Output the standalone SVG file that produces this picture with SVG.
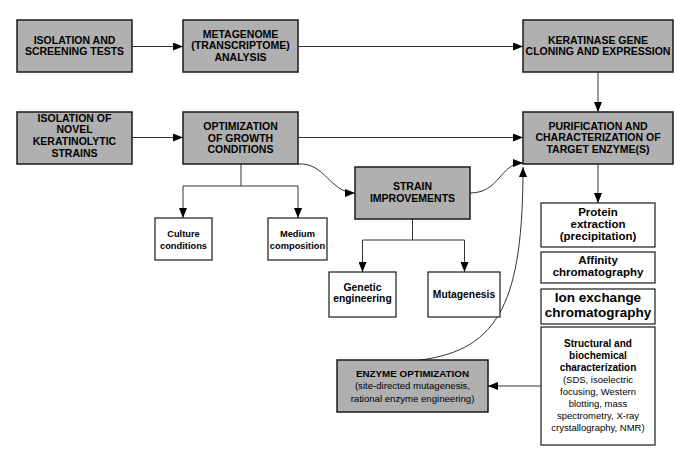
<svg xmlns="http://www.w3.org/2000/svg" width="692" height="464" viewBox="0 0 692 464">
<defs>
<marker id="ah" markerUnits="userSpaceOnUse" markerWidth="10" markerHeight="8" refX="10" refY="4" orient="auto">
<path d="M0,0 L10,4 L0,8 z" fill="#000"/>
</marker>
<style>
.g{fill:#b0b0b0;stroke:#1a1a1a;stroke-width:1.5}
.w{fill:#fff;stroke:#1a1a1a;stroke-width:1.2}
text{font-family:"Liberation Sans",Arial,sans-serif;fill:#000;text-anchor:middle}
.h{font-weight:bold;font-size:10.5px}
.s{font-weight:bold;font-size:9.3px}
.m{font-weight:bold;font-size:10.3px}
.p{font-weight:bold;font-size:11.5px}
.i{font-weight:bold;font-size:13.5px}
.b{font-weight:bold;font-size:10px}
.r{font-size:9.5px}
.c path{fill:none;stroke:#333;stroke-width:1}
.c .a{marker-end:url(#ah)}
</style>
</defs>
<rect width="692" height="464" fill="#fff"/>
<g class="c">
<path class="a" d="M132,46.5 H183"/>
<path class="a" d="M298,46.5 H523"/>
<path class="a" d="M132,137.5 H183"/>
<path class="a" d="M298,137.5 H523"/>
<path class="a" d="M598,72 V112"/>
<path class="a" d="M598,164 V203"/>
<path d="M241,164 V186 M183,186 H298"/>
<path class="a" d="M183,186 V218"/>
<path class="a" d="M298,186 V218"/>
<path d="M412.5,219 V240 M362.5,240 H464.5"/>
<path class="a" d="M362.5,240 V272"/>
<path class="a" d="M464.5,240 V272"/>
<path class="a" d="M298,164 C325,162 330,193 355,193"/>
<path class="a" d="M470,193 C500,193 500,163 523,163"/>
<path class="a" d="M420,360 C500,350 523,300 523,167"/>
<path class="a" d="M541,386 H488"/>
</g>
<g id="isolation-screening"><rect class="g" x="17" y="20" width="115" height="52"/><text class="h"><tspan x="74.5" y="43.5">ISOLATION AND</tspan><tspan x="74.5" y="55.2">SCREENING TESTS</tspan></text></g>
<g id="metagenome"><rect class="g" x="183" y="20" width="115" height="52"/><text class="h"><tspan x="240.5" y="37.5">METAGENOME</tspan><tspan x="240.5" y="49.2">(TRANSCRIPTOME)</tspan><tspan x="240.5" y="60.9">ANALYSIS</tspan></text></g>
<g id="keratinase"><rect class="g" x="523" y="20" width="150" height="52"/><text class="h"><tspan x="598" y="43.5">KERATINASE GENE</tspan><tspan x="598" y="55.2">CLONING AND EXPRESSION</tspan></text></g>
<g id="isolation-novel"><rect class="g" x="17" y="112" width="115" height="52"/><text class="h"><tspan x="74.5" y="121.5">ISOLATION OF</tspan><tspan x="74.5" y="133.2">NOVEL</tspan><tspan x="74.5" y="144.9">KERATINOLYTIC</tspan><tspan x="74.5" y="156.6">STRAINS</tspan></text></g>
<g id="optimization"><rect class="g" x="183" y="112" width="115" height="52"/><text class="h"><tspan x="240.5" y="130">OPTIMIZATION</tspan><tspan x="240.5" y="141.7">OF GROWTH</tspan><tspan x="240.5" y="153.4">CONDITIONS</tspan></text></g>
<g id="purification"><rect class="g" x="523" y="112" width="150" height="52"/><text class="h"><tspan x="598" y="129.7">PURIFICATION AND</tspan><tspan x="598" y="141.4">CHARACTERIZATION OF</tspan><tspan x="598" y="153.1">TARGET ENZYME(S)</tspan></text></g>
<g id="strain"><rect class="g" x="355" y="167" width="115" height="52"/><text class="h"><tspan x="412.5" y="189.8">STRAIN</tspan><tspan x="412.5" y="201.5">IMPROVEMENTS</tspan></text></g>
<g id="culture"><rect class="w" x="155" y="218" width="57" height="42"/><text class="s"><tspan x="183.5" y="237.3">Culture</tspan><tspan x="183.5" y="248.5">conditions</tspan></text></g>
<g id="medium"><rect class="w" x="268" y="218" width="59" height="42"/><text class="s"><tspan x="297.5" y="237.3">Medium</tspan><tspan x="297.5" y="248.5">composition</tspan></text></g>
<g id="genetic"><rect class="w" x="329" y="272" width="67" height="45"/><text class="m"><tspan x="362.5" y="290.5">Genetic</tspan><tspan x="362.5" y="302">engineering</tspan></text></g>
<g id="mutagenesis"><rect class="w" x="428" y="272" width="72" height="45"/><text class="m" x="464" y="298">Mutagenesis</text></g>
<g id="protein"><rect class="w" x="541" y="203" width="114" height="44"/><text class="p"><tspan x="598" y="215.5">Protein</tspan><tspan x="598" y="227.5">extraction</tspan><tspan x="598" y="239.5">(precipitation)</tspan></text></g>
<g id="affinity"><rect class="w" x="541" y="252" width="114" height="31"/><text class="p"><tspan x="598" y="264.3">Affinity</tspan><tspan x="598" y="276">chromatography</tspan></text></g>
<g id="ion"><rect class="w" x="541" y="289" width="114" height="35"/><text class="i"><tspan x="598" y="301.7">Ion exchange</tspan><tspan x="598" y="316.7">chromatography</tspan></text></g>
<g id="structural"><rect class="w" x="541" y="327" width="114" height="118"/><text class="b"><tspan x="598" y="346.7">Structural and</tspan><tspan x="598" y="358.7">biochemical</tspan><tspan x="598" y="370.7">characterization</tspan></text><text class="r"><tspan x="598" y="382.7">(SDS, isoelectric</tspan><tspan x="598" y="394.7">focusing, Western</tspan><tspan x="598" y="406.7">blotting, mass</tspan><tspan x="598" y="418.7">spectrometry, X-ray</tspan><tspan x="598" y="430.7">crystallography, NMR)</tspan></text></g>
<g id="enzyme"><rect class="g" x="337" y="360" width="151" height="52"/><text style="font-weight:bold;font-size:9.8px" x="412.5" y="376.7">ENZYME OPTIMIZATION</text><text class="r" style="font-size:9.6px"><tspan x="412.5" y="389.3">(site-directed mutagenesis,</tspan><tspan x="412.5" y="401.7">rational enzyme engineering)</tspan></text></g>
</svg>
